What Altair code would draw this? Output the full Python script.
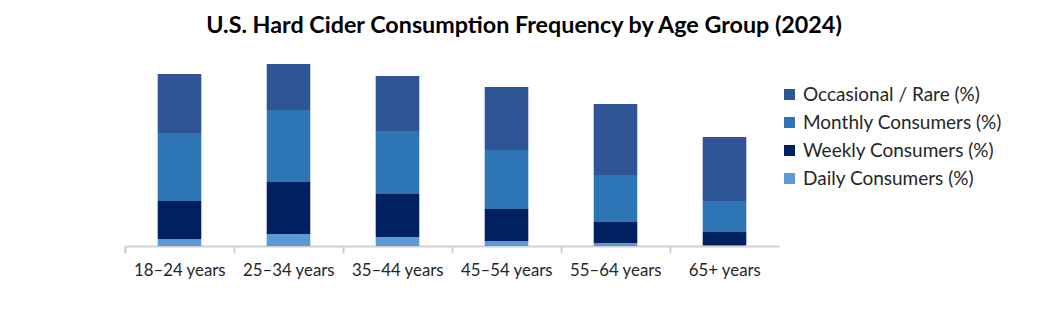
import altair as alt
import pandas as pd

age_groups = ["18–24 years", "25–34 years", "35–44 years", "45–54 years", "55–64 years", "65+ years"]
daily = [3.5, 6.0, 4.5, 2.5, 1.5, 0.5]
weekly = [19.0, 26.0, 21.5, 16.0, 10.5, 6.5]
monthly = [34.0, 36.0, 31.5, 29.5, 23.5, 15.5]
occasional = [29.5, 23.0, 27.5, 31.5, 35.5, 32.0]

series_names = ["Daily Consumers (%)", "Weekly Consumers (%)", "Monthly Consumers (%)", "Occasional / Rare (%)"]
series_values = [daily, weekly, monthly, occasional]
legend_order = ["Occasional / Rare (%)", "Monthly Consumers (%)", "Weekly Consumers (%)", "Daily Consumers (%)"]
colors = ["#2F5597", "#2E75B6", "#002060", "#5B9BD5"]

rows = []
for si, (name, vals) in enumerate(zip(series_names, series_values)):
    for g, v in zip(age_groups, vals):
        rows.append({"Age": g, "Series": name, "Value": v, "Order": si})
df = pd.DataFrame(rows)

FONT = "Lato"

chart = (
    alt.Chart(df)
    .mark_bar()
    .encode(
        x=alt.X(
            "Age:N",
            sort=age_groups,
            scale=alt.Scale(paddingInner=0.6, paddingOuter=0.3),
            axis=alt.Axis(
                title=None,
                labelAngle=0,
                labelFontSize=16.8,
                labelFont=FONT,
                labelColor="#262626",
                labelPadding=9,
                labelOffset=32.5,
                domainColor="#d0d0d0",
                domainWidth=2,
                ticks=True,
                tickColor="#d0d0d0",
                tickWidth=2,
                tickSize=7,
                tickOpacity=1,
                bandPosition=0,
                tickOffset=-32.7,
                tickExtra=True,
                grid=False,
            ),
        ),
        y=alt.Y(
            "Value:Q",
            stack="zero",
            scale=alt.Scale(domain=[0, 98], nice=False),
            axis=None,
        ),
        color=alt.Color(
            "Series:N",
            scale=alt.Scale(domain=legend_order, range=colors),
            legend=alt.Legend(
                title=None,
                orient="none",
                legendX=655,
                legendY=35,
                symbolType="square",
                symbolSize=121,
                symbolStrokeWidth=0,
                labelFontSize=19,
                labelFont=FONT,
                labelColor="#262626",
                labelLimit=400,
                rowPadding=8,
                labelOffset=4,
            ),
        ),
        order=alt.Order("Order:Q", sort="ascending"),
    )
    .properties(
        width=654,
        height=196,
        title=alt.TitleParams(
            "U.S. Hard Cider Consumption Frequency by Age Group (2024)",
            font=FONT,
            fontSize=23.3,
            fontWeight="bold",
            color="#000000",
            anchor="middle",
            dx=72,
            offset=12,
        ),
        autosize=alt.AutoSizeParams(type="none"),
        padding={"left": 125, "top": 50, "right": 280, "bottom": 78},
        background="white",
    )
    .configure_view(strokeWidth=0, stroke=None)
)

chart.save("out.html", embed_options={"renderer": "svg", "actions": False})
